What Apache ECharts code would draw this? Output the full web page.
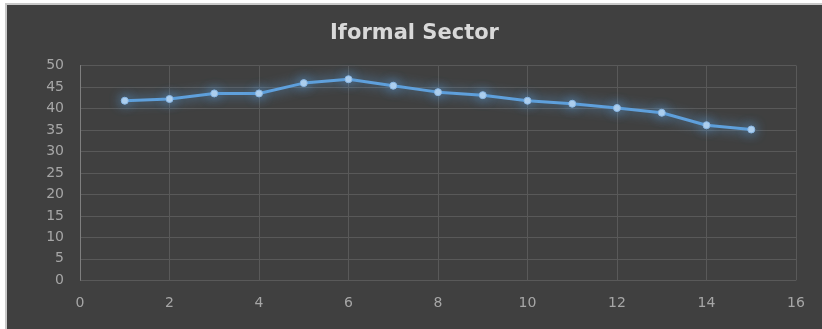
<!DOCTYPE html>
<html>
<head>
<meta charset="utf-8">
<script src="https://cdn.jsdelivr.net/npm/echarts@6/dist/echarts.min.js"></script>
<style>
  html, body { margin: 0; padding: 0; background: #ffffff; overflow: hidden; }
  #frame { position: absolute; left: 5px; top: 3px; width: 817px; height: 326px; background: #c9c9c9; }
  #chart { position: absolute; left: 7px; top: 5px; width: 815px; height: 324px; }
</style>
</head>
<body>
<div id="frame"></div>
<div id="chart"></div>
<script>
// Series: period index vs. informal sector share
const xValues = [1, 2, 3, 4, 5, 6, 7, 8, 9, 10, 11, 12, 13, 14, 15];
const yValues = [41.8, 42.2, 43.5, 43.5, 45.9, 46.8, 45.3, 43.8, 43.1, 41.8, 41.1, 40.1, 39.0, 36.1, 35.1];
const chartTitle = 'Iformal Sector';

const points = xValues.map((x, i) => [x, yValues[i]]);

const chart = echarts.init(document.getElementById('chart'), null, { renderer: 'canvas' });
chart.setOption({
  backgroundColor: '#404040',
  animation: false,
  title: {
    text: chartTitle,
    left: 'center',
    top: 13,
    textStyle: { color: '#d9d9d9', fontFamily: 'DejaVu Sans', fontWeight: 'bold', fontSize: 21 }
  },
  grid: { left: 73, right: 26, top: 60.5, bottom: 48.7, containLabel: false },
  xAxis: {
    type: 'value',
    min: 0, max: 16, interval: 2,
    axisLine: { show: false },
    axisTick: { show: false },
    axisLabel: { color: '#a6a6a6', fontFamily: 'DejaVu Sans', fontSize: 14, margin: 16 },
    splitLine: { show: true, lineStyle: { color: '#595959', width: 1 } }
  },
  yAxis: {
    type: 'value',
    min: 0, max: 50, interval: 5,
    axisLine: { show: true, lineStyle: { color: '#7f7f7f', width: 1 } },
    axisTick: { show: false },
    axisLabel: { color: '#a6a6a6', fontFamily: 'DejaVu Sans', fontSize: 14, margin: 16 },
    splitLine: { show: true, lineStyle: { color: '#595959', width: 1 } }
  },
  series: [{
    type: 'line',
    data: points,
    symbol: 'circle',
    symbolSize: 7,
    lineStyle: { color: '#5fa0dc', width: 3, shadowBlur: 12, shadowColor: 'rgba(91,155,213,1)' },
    itemStyle: { color: '#b4d3f0', borderColor: '#8ab8e6', borderWidth: 1, shadowBlur: 12, shadowColor: 'rgba(91,155,213,1)' },
    z: 3
  }]
});
</script>
</body>
</html>
